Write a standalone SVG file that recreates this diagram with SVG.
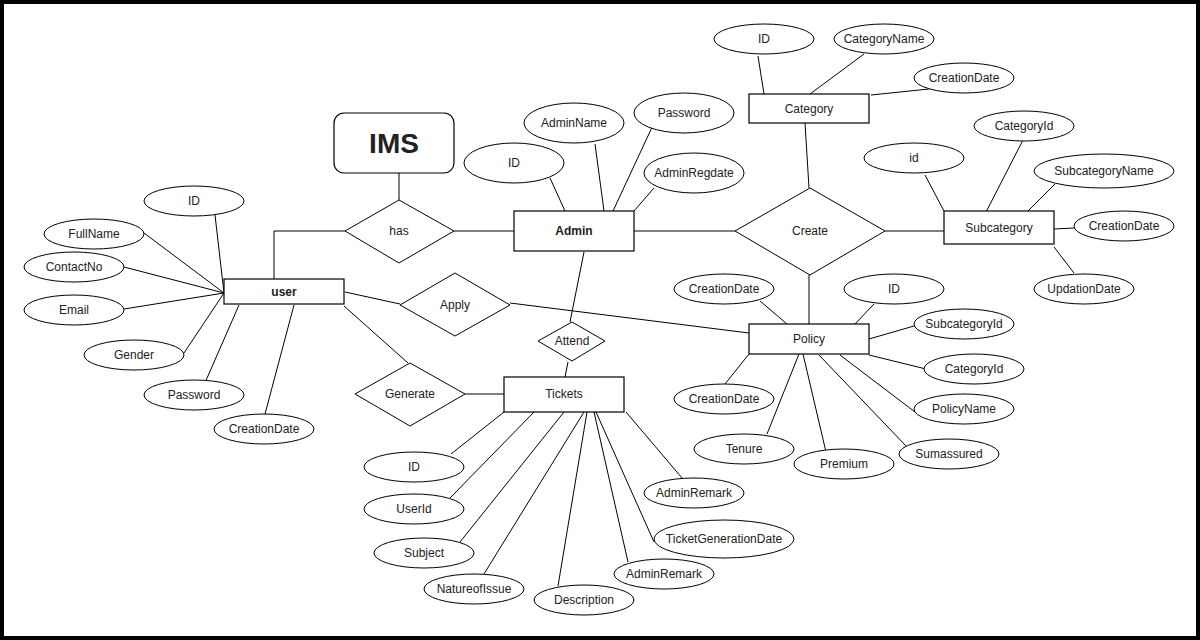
<svg xmlns="http://www.w3.org/2000/svg" width="1200" height="640" viewBox="0 0 1200 640">
<style>
.e{fill:#fff;stroke:#000;stroke-width:1.2}
.a{fill:#fff;stroke:#000;stroke-width:1}
.r{fill:#fff;stroke:#000;stroke-width:1}
.t{font-family:"Liberation Sans",Arial,sans-serif;font-size:12px;fill:#222;text-anchor:middle;dominant-baseline:central}
.b{font-weight:bold}
#conn line,#conn polyline{stroke:#000;stroke-width:1;fill:none}
</style>
<rect x="0" y="0" width="1200" height="640" fill="#000"/>
<rect x="4" y="4" width="1192" height="632" fill="#fff"/>

<g id="conn">
<line x1="399" y1="173" x2="399" y2="200"/>
<polyline points="274,279 274,231 345,231"/>
<line x1="454" y1="231" x2="514" y2="231"/>
<line x1="550" y1="178" x2="565" y2="211"/>
<line x1="595" y1="144" x2="604" y2="211"/>
<line x1="654" y1="123" x2="613" y2="211"/>
<line x1="654" y1="188" x2="634" y2="211"/>
<line x1="634" y1="231" x2="735" y2="231"/>
<line x1="584" y1="252" x2="570" y2="322"/>
<line x1="568" y1="362" x2="565" y2="377"/>
<line x1="345" y1="292" x2="400" y2="304"/>
<line x1="510" y1="303" x2="749" y2="333"/>
<line x1="344" y1="306" x2="408" y2="363"/>
<line x1="465" y1="394" x2="504" y2="394"/>
<line x1="215" y1="215" x2="224" y2="293"/>
<line x1="144" y1="233" x2="224" y2="293"/>
<line x1="124" y1="267" x2="224" y2="293"/>
<line x1="124" y1="309" x2="224" y2="293"/>
<line x1="184" y1="353" x2="224" y2="293"/>
<line x1="204" y1="385" x2="239" y2="305"/>
<line x1="265" y1="414" x2="294" y2="305"/>
<line x1="758" y1="56" x2="764" y2="94"/>
<line x1="864" y1="54" x2="810" y2="94"/>
<line x1="929" y1="89" x2="871" y2="95"/>
<line x1="805" y1="123" x2="809" y2="188"/>
<line x1="885" y1="231" x2="944" y2="231"/>
<line x1="925" y1="175" x2="944" y2="211"/>
<line x1="1023" y1="140" x2="985" y2="214"/>
<line x1="1055" y1="184" x2="1028" y2="211"/>
<line x1="1054" y1="229" x2="1074" y2="228"/>
<line x1="1054" y1="247" x2="1074" y2="273"/>
<line x1="809" y1="275" x2="809" y2="324"/>
<line x1="760" y1="301" x2="787" y2="324"/>
<line x1="874" y1="304" x2="855" y2="324"/>
<line x1="914" y1="326" x2="869" y2="339"/>
<line x1="869" y1="355" x2="926" y2="369"/>
<line x1="840" y1="355" x2="915" y2="412"/>
<line x1="819" y1="355" x2="907" y2="447"/>
<line x1="803" y1="354" x2="826" y2="452"/>
<line x1="799" y1="354" x2="767" y2="434"/>
<line x1="749" y1="354" x2="725" y2="384"/>
<line x1="451" y1="454" x2="504" y2="412"/>
<line x1="450" y1="498" x2="534" y2="412"/>
<line x1="460" y1="542" x2="564" y2="412"/>
<line x1="484" y1="574" x2="584" y2="412"/>
<line x1="558" y1="586" x2="587" y2="412"/>
<line x1="628" y1="562" x2="594" y2="412"/>
<line x1="654" y1="542" x2="596" y2="412"/>
<line x1="682" y1="478" x2="626" y2="412"/>
</g>

<g id="ims"><rect x="334" y="113" width="120" height="60" rx="10" class="e"/><text x="394" y="143" class="t b" style="font-size:28px">IMS</text></g>
<g id="has"><polygon points="345,231 399,200 454,231 399,263" class="r"/><text x="399" y="231" class="t">has</text></g>
<g id="admin"><rect x="514" y="211" width="120" height="40" class="e"/><text x="574" y="231" class="t b">Admin</text></g>
<g id="admin-id"><ellipse cx="514" cy="163" rx="50" ry="20" class="a"/><text x="514" y="163" class="t">ID</text></g>
<g id="admin-name"><ellipse cx="574" cy="123" rx="50" ry="20" class="a"/><text x="574" y="123" class="t">AdminName</text></g>
<g id="admin-password"><ellipse cx="684" cy="113" rx="50" ry="20" class="a"/><text x="684" y="113" class="t">Password</text></g>
<g id="admin-regdate"><ellipse cx="694" cy="173" rx="50" ry="20" class="a"/><text x="694" y="173" class="t">AdminRegdate</text></g>
<g id="attend"><polygon points="538,341 572,322 605,341 572,361" class="r"/><text x="572" y="341" class="t">Attend</text></g>
<g id="user"><rect x="224" y="279" width="120" height="25" class="e"/><text x="284" y="292" class="t b">user</text></g>
<g id="user-id"><ellipse cx="194" cy="201" rx="50" ry="15" class="a"/><text x="194" y="201" class="t">ID</text></g>
<g id="user-fullname"><ellipse cx="94" cy="234" rx="50" ry="15" class="a"/><text x="94" y="234" class="t">FullName</text></g>
<g id="user-contact"><ellipse cx="74" cy="267" rx="50" ry="15" class="a"/><text x="74" y="267" class="t">ContactNo</text></g>
<g id="user-email"><ellipse cx="74" cy="310" rx="50" ry="15" class="a"/><text x="74" y="310" class="t">Email</text></g>
<g id="user-gender"><ellipse cx="134" cy="355" rx="50" ry="15" class="a"/><text x="134" y="355" class="t">Gender</text></g>
<g id="user-password"><ellipse cx="194" cy="395" rx="50" ry="15" class="a"/><text x="194" y="395" class="t">Password</text></g>
<g id="user-creation"><ellipse cx="264" cy="429" rx="50" ry="15" class="a"/><text x="264" y="429" class="t">CreationDate</text></g>
<g id="apply"><polygon points="400,305 455,273 510,305 455,336" class="r"/><text x="455" y="305" class="t">Apply</text></g>
<g id="generate"><polygon points="355,394 410,363 465,394 410,426" class="r"/><text x="410" y="394" class="t">Generate</text></g>
<g id="tickets"><rect x="504" y="377" width="120" height="35" class="e"/><text x="564" y="394" class="t">Tickets</text></g>
<g id="t-id"><ellipse cx="414" cy="467" rx="50" ry="15" class="a"/><text x="414" y="467" class="t">ID</text></g>
<g id="t-userid"><ellipse cx="414" cy="509" rx="50" ry="15" class="a"/><text x="414" y="509" class="t">UserId</text></g>
<g id="t-subject"><ellipse cx="424" cy="553" rx="50" ry="15" class="a"/><text x="424" y="553" class="t">Subject</text></g>
<g id="t-nature"><ellipse cx="474" cy="589" rx="50" ry="15" class="a"/><text x="474" y="589" class="t">NatureofIssue</text></g>
<g id="t-desc"><ellipse cx="584" cy="600" rx="50" ry="15" class="a"/><text x="584" y="600" class="t">Description</text></g>
<g id="t-remark2"><ellipse cx="664" cy="574" rx="50" ry="15" class="a"/><text x="664" y="574" class="t">AdminRemark</text></g>
<g id="t-gendate"><ellipse cx="724" cy="539" rx="70" ry="19" class="a"/><text x="724" y="539" class="t">TicketGenerationDate</text></g>
<g id="t-remark1"><ellipse cx="694" cy="493" rx="50" ry="15" class="a"/><text x="694" y="493" class="t">AdminRemark</text></g>
<g id="category"><rect x="749" y="94" width="120" height="29" class="e"/><text x="809" y="109" class="t">Category</text></g>
<g id="c-id"><ellipse cx="764" cy="39" rx="50" ry="15" class="a"/><text x="764" y="39" class="t">ID</text></g>
<g id="c-name"><ellipse cx="884" cy="39" rx="50" ry="15" class="a"/><text x="884" y="39" class="t">CategoryName</text></g>
<g id="c-creation"><ellipse cx="964" cy="78" rx="50" ry="15" class="a"/><text x="964" y="78" class="t">CreationDate</text></g>
<g id="create"><polygon points="735,231 810,188 885,231 810,275" class="r"/><text x="810" y="231" class="t">Create</text></g>
<g id="subcategory"><rect x="944" y="211" width="110" height="33" class="e"/><text x="999" y="228" class="t">Subcategory</text></g>
<g id="s-id"><ellipse cx="914" cy="158" rx="50" ry="15" class="a"/><text x="914" y="158" class="t">id</text></g>
<g id="s-catid"><ellipse cx="1024" cy="126" rx="50" ry="15" class="a"/><text x="1024" y="126" class="t">CategoryId</text></g>
<g id="s-name"><ellipse cx="1104" cy="171" rx="70" ry="17" class="a"/><text x="1104" y="171" class="t">SubcategoryName</text></g>
<g id="s-creation"><ellipse cx="1124" cy="226" rx="50" ry="15" class="a"/><text x="1124" y="226" class="t">CreationDate</text></g>
<g id="s-updation"><ellipse cx="1084" cy="289" rx="50" ry="15" class="a"/><text x="1084" y="289" class="t">UpdationDate</text></g>
<g id="policy"><rect x="749" y="324" width="120" height="30" class="e"/><text x="809" y="339" class="t">Policy</text></g>
<g id="p-creation1"><ellipse cx="724" cy="289" rx="50" ry="15" class="a"/><text x="724" y="289" class="t">CreationDate</text></g>
<g id="p-id"><ellipse cx="894" cy="289" rx="50" ry="15" class="a"/><text x="894" y="289" class="t">ID</text></g>
<g id="p-subcatid"><ellipse cx="964" cy="324" rx="50" ry="15" class="a"/><text x="964" y="324" class="t">SubcategoryId</text></g>
<g id="p-catid"><ellipse cx="974" cy="369" rx="50" ry="15" class="a"/><text x="974" y="369" class="t">CategoryId</text></g>
<g id="p-name"><ellipse cx="964" cy="409" rx="50" ry="15" class="a"/><text x="964" y="409" class="t">PolicyName</text></g>
<g id="p-sum"><ellipse cx="949" cy="454" rx="50" ry="15" class="a"/><text x="949" y="454" class="t">Sumassured</text></g>
<g id="p-premium"><ellipse cx="844" cy="464" rx="50" ry="15" class="a"/><text x="844" y="464" class="t">Premium</text></g>
<g id="p-tenure"><ellipse cx="744" cy="449" rx="50" ry="15" class="a"/><text x="744" y="449" class="t">Tenure</text></g>
<g id="p-creation2"><ellipse cx="724" cy="399" rx="50" ry="15" class="a"/><text x="724" y="399" class="t">CreationDate</text></g>
</svg>
